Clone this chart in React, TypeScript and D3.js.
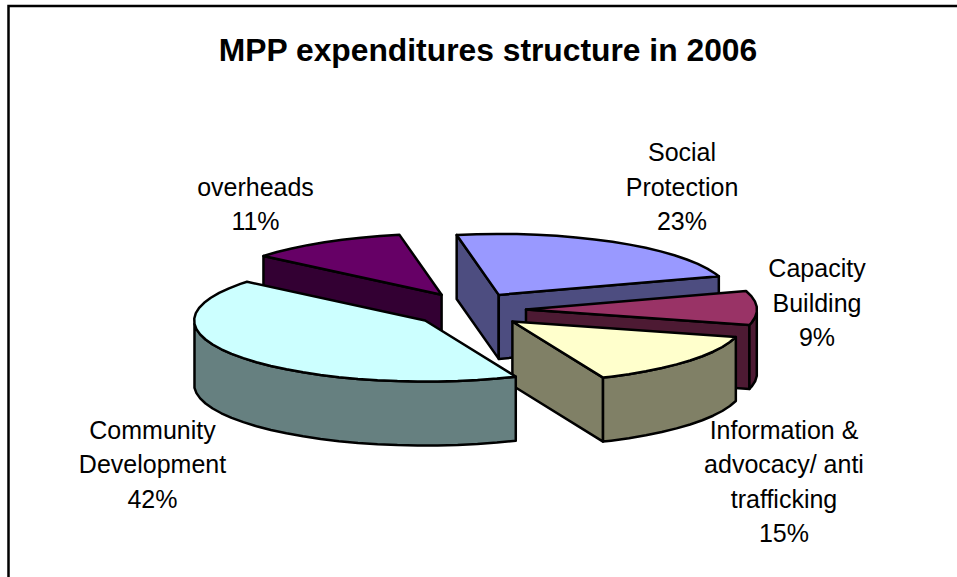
import * as d3 from 'd3';

const title = 'MPP expenditures structure in 2006';
const categories = ['Social Protection', 'Capacity Building', 'Information & advocacy/ anti trafficking', 'Community Development', 'overheads'];
const shares = [23, 9, 14.5, 42.4, 11.1];
const labelLines = [
  ['Social', 'Protection'],
  ['Capacity', 'Building'],
  ['Information &', 'advocacy/ anti', 'trafficking'],
  ['Community', 'Development'],
  ['overheads'],
];
const topColors = ['#9999FF', '#993366', '#FFFFCC', '#CCFFFF', '#660066'];
const sideColors = ['#4D4D80', '#4D1A33', '#808066', '#668080', '#330033'];
// where each label block is centred, and the baseline of its first line
const labelX = [682, 817, 784, 152.5, 255.5];
const labelY = [161, 277, 438.5, 438.5, 195.5];

const width = 957;
const height = 577;
const cx = 470;
const cy = 310;
const rx = 231;
const ry = 61;
const explodeX = 56;
const explodeY = 17.6;
const depth = 64;
const lineHeight = 34.6;
const paintOrder = [4, 0, 1, 2, 3];

const pie = d3.pie<number>().sort(null).startAngle(-10.5 * Math.PI / 180).endAngle(349.5 * Math.PI / 180);
const arcs = pie(shares);

type Pt = [number, number];
const line = d3.line<Pt>();

function Slice({ i }: { i: number }) {
  const a = arcs[i];
  const mid = (a.startAngle + a.endAngle) / 2;
  const ax = cx + explodeX * Math.sin(mid);
  const ay = cy - explodeY * Math.cos(mid);
  const rim = (t: number): Pt => [ax + rx * Math.sin(t), ay - ry * Math.cos(t)];
  const step = 5 * Math.PI / 180;
  const angles = [...d3.range(a.startAngle, a.endAngle, step), a.endAngle];
  const drop = (p: Pt): Pt => [p[0], p[1] + depth];

  const top = line([[ax, ay], ...angles.map(rim)]) + 'Z';
  const wall = (t: number) => line([[ax, ay], rim(t), drop(rim(t)), [ax, ay + depth]]) + 'Z';
  const faces: string[] = [];
  // radial cut faces are seen only when they turn towards the viewer
  if (Math.cos(a.startAngle - Math.PI / 2) < 0) faces.push(wall(a.startAngle));
  if (Math.cos(a.endAngle + Math.PI / 2) < 0) faces.push(wall(a.endAngle));
  const front = angles.filter(t => Math.cos(t) < 0);
  if (front.length > 1) {
    const pts = front.map(rim);
    faces.push(line([...pts, ...pts.slice().reverse().map(drop)]) + 'Z');
  }
  return (
    <g stroke="#000" strokeWidth={2.5} strokeLinejoin="round">
      {faces.map((d, k) => <path key={k} d={d} fill={sideColors[i]} />)}
      <path d={top} fill={topColors[i]} />
    </g>
  );
}

export default function App() {
  return (
    <svg width={width} height={height} style={{ position: 'absolute', left: 0, top: 0 }}
      fontFamily="'Liberation Sans', Arial, sans-serif">
      <rect width={width} height={height} fill="#fff" />
      <path d="M8.5,577V6H957" fill="none" stroke="#000" strokeWidth={2.5} />
      <text x={488} y={61} textAnchor="middle" fontSize={31.8} fontWeight="bold">{title}</text>
      {paintOrder.map(i => <Slice key={i} i={i} />)}
      {categories.map((c, i) => (
        <text key={c} textAnchor="middle" fontSize={25} fill="#000">
          {[...labelLines[i], `${Math.round(shares[i])}%`].map((t, k) => (
            <tspan key={k} x={labelX[i]} y={labelY[i] + k * lineHeight}>{t}</tspan>
          ))}
        </text>
      ))}
    </svg>
  );
}
